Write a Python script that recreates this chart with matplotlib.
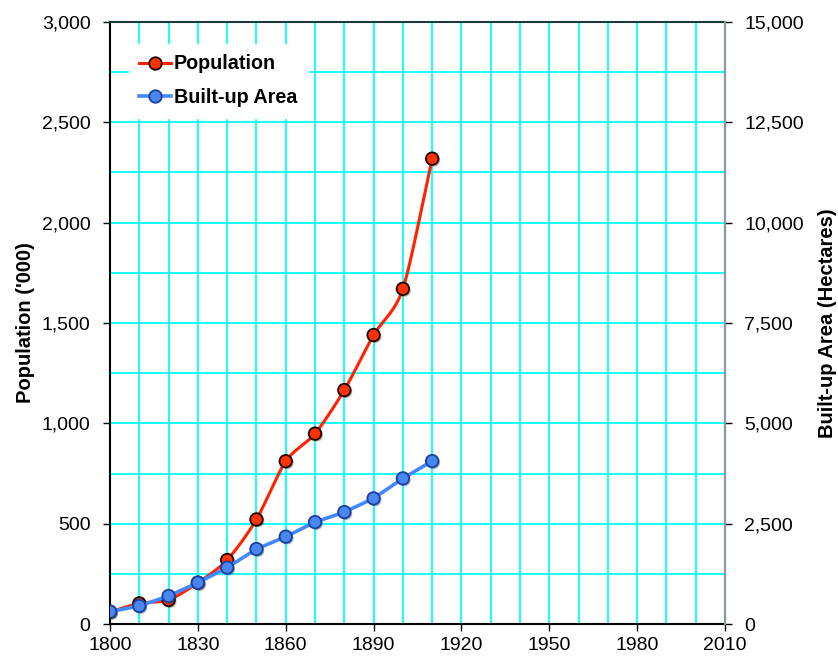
import numpy as np
import matplotlib
matplotlib.use("Agg")
import matplotlib.pyplot as plt
import matplotlib.patheffects as pe
from matplotlib.lines import Line2D

plt.rcParams['font.family'] = ['Liberation Sans', 'DejaVu Sans']

years = [1800, 1810, 1820, 1830, 1840, 1850, 1860, 1870, 1880, 1890, 1900, 1910]
population = [62, 104, 121, 207, 320, 522, 812, 949, 1166, 1440, 1670, 2318]
built_up = [316, 455, 704, 1036, 1410, 1873, 2181, 2544, 2793, 3134, 3632, 4062]

x_ticks = [1800, 1830, 1860, 1890, 1920, 1950, 1980, 2010]
left_ticks = [0, 500, 1000, 1500, 2000, 2500, 3000]
right_ticks = [0, 2500, 5000, 7500, 10000, 12500, 15000]


def smooth(xs, ys, n=20):
    xs = np.asarray(xs, float)
    ys = np.asarray(ys, float)
    px = np.concatenate([[2 * xs[0] - xs[1]], xs, [2 * xs[-1] - xs[-2]]])
    py = np.concatenate([[2 * ys[0] - ys[1]], ys, [2 * ys[-1] - ys[-2]]])
    ox, oy = [], []
    for i in range(1, len(px) - 2):
        t = np.linspace(0, 1, n, endpoint=False)
        for arr, out in ((px, ox), (py, oy)):
            p0, p1, p2, p3 = arr[i - 1], arr[i], arr[i + 1], arr[i + 2]
            m1 = (p2 - p0) / 2 * 0.8
            m2 = (p3 - p1) / 2 * 0.8
            h00 = 2 * t**3 - 3 * t**2 + 1
            h10 = t**3 - 2 * t**2 + t
            h01 = -2 * t**3 + 3 * t**2
            h11 = t**3 - t**2
            out.extend(h00 * p1 + h10 * m1 + h01 * p2 + h11 * m2)
    ox.append(xs[-1]); oy.append(ys[-1])
    return np.array(ox), np.array(oy)


fig = plt.figure(figsize=(8.38, 6.57), dpi=100)
ax = fig.add_axes([0.1313, 0.0498, 0.7339, 0.9172])
ax2 = ax.twinx()

ax.set_xlim(1800, 2010)
ax.set_ylim(0, 3000)
ax2.set_ylim(0, 15000)

# grid
for yr in range(1810, 2010, 10):
    ax.axvline(yr, color='#00FFFF', lw=1.3, zorder=0)
for v in range(250, 3000, 250):
    ax.axhline(v, color='#00FFFF', lw=1.3, zorder=0)

shadow = [pe.SimplePatchShadow(offset=(1.2, -1.2), alpha=0.35), pe.Normal()]

sx, sy = smooth(years, population)
ax.plot(sx, sy, color='#FF2200', lw=2.2, zorder=3)
ax.plot(years, population, ls='none', marker='o', ms=9, mfc='#FF3300',
        mec='#1a0000', mew=1.3, zorder=4, path_effects=shadow)

ax2.plot(years, built_up, color='#4488FF', lw=2.6, zorder=5)
ax2.plot(years, built_up, ls='none', marker='o', ms=9,
         mfc='#4A86F0', mec='#1A3F9F', mew=1.3, zorder=6, path_effects=shadow)

ax.set_xticks(x_ticks)
ax.set_yticks(left_ticks)
ax.set_yticklabels([f"{v:,}" for v in left_ticks])
ax2.set_yticks(right_ticks)
ax2.set_yticklabels([f"{v:,}" for v in right_ticks])

for a in (ax, ax2):
    a.tick_params(direction='out', length=5, width=1, labelsize=14, pad=9)
ax.tick_params(axis='x', pad=4)

ax.spines['left'].set_color('black')
ax.spines['bottom'].set_color('black')
ax.spines['top'].set_color('#1a3a3a')
ax2.spines['right'].set_color('#8a9aa0')
ax2.spines['right'].set_linewidth(1.5)
for s in ax.spines.values():
    s.set_linewidth(1.5)
ax2.spines['left'].set_visible(False)
ax2.spines['bottom'].set_visible(False)
ax2.spines['top'].set_visible(False)

ax.set_ylabel("Population ('000)", fontsize=14.5, fontweight='bold', labelpad=5)
ax2.set_ylabel("Built-up Area (Hectares)", fontsize=14.5, fontweight='bold', labelpad=10)

h1 = Line2D([], [], color='#FF2200', lw=2.2, marker='o', ms=9, mfc='#FF3300', mec='#1a0000', mew=1.3)
h2 = Line2D([], [], color='#4488FF', lw=2.6, marker='o', ms=9, mfc='#4A86F0', mec='#1A3F9F', mew=1.3)
leg = ax2.legend([h1, h2], ['Population', 'Built-up Area'], loc='upper left',
                 bbox_to_anchor=(0.014, 0.98), frameon=True, fancybox=False,
                 framealpha=1, edgecolor='white', handlelength=1.6,
                 handletextpad=0.15, labelspacing=0.75, borderpad=0.55,
                 prop={'weight': 'bold', 'size': 14.2})

fig.savefig('out.png', dpi=100)
